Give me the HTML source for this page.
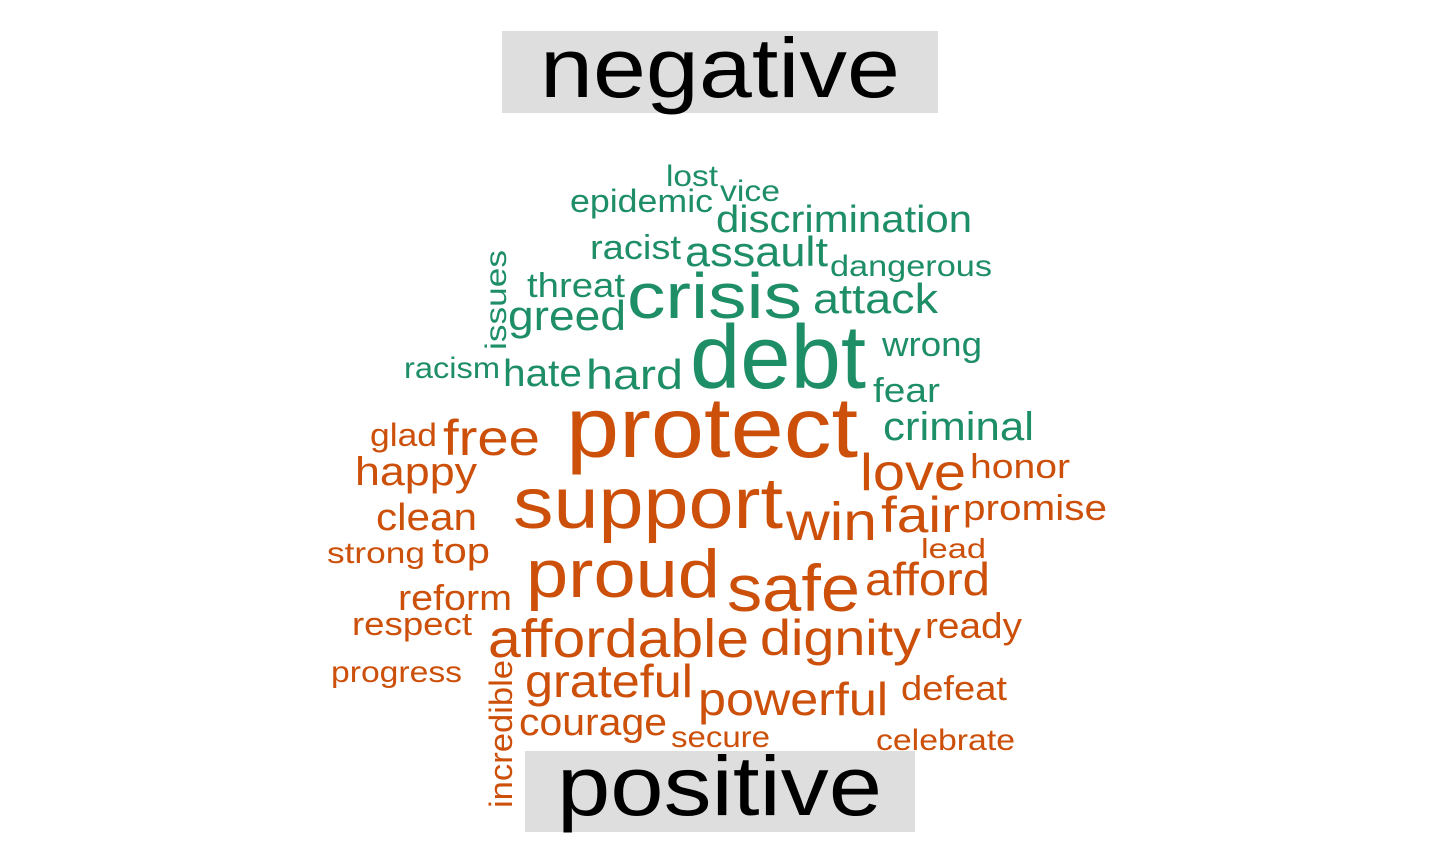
<!DOCTYPE html>
<html><head><meta charset="utf-8"><style>
html,body{margin:0;padding:0;background:#fff;width:1440px;height:864px;overflow:hidden}
svg text{font-family:"Liberation Sans",Arial,sans-serif}
</style></head><body>
<svg id="cloud" width="1440" height="864" viewBox="0 0 1440 864" xmlns="http://www.w3.org/2000/svg">
<rect x="502" y="31" width="436" height="82" fill="#dedede"/>
<text x="540" y="97" font-size="84" textLength="360" lengthAdjust="spacingAndGlyphs" fill="#000">negative</text>
<rect x="525" y="751" width="390" height="81" fill="#dedede"/>
<text x="557" y="815" font-size="84" textLength="325" lengthAdjust="spacingAndGlyphs" fill="#000">positive</text>
<g id="words"></g>
</svg>
<script>
const words = ["lost","vice","epidemic","discrimination","racist","assault","dangerous","threat","crisis","attack","issues","greed","debt","wrong","racism","hate","hard","fear","criminal",
"glad","free","protect","love","honor","happy","support","win","fair","promise","clean","strong","top","lead","proud","safe","afford","reform","respect","affordable","dignity","ready","progress","grateful","incredible","defeat","powerful","courage","secure","celebrate"];
const sentiment = ["n","n","n","n","n","n","n","n","n","n","n","n","n","n","n","n","n","n","n",
"p","p","p","p","p","p","p","p","p","p","p","p","p","p","p","p","p","p","p","p","p","p","p","p","p","p","p","p","p","p"];
const fontSizes = [30,30,32,38,34,42,30,34,64,42,30,42,90,34,30,38,42,34,40,
32,50,85,52,34,40,72,54,50,36,38,30,36,28,68,66,46,36,32,54,50,36,30,46,32,34,46,38,30,30];
// layout: [x, baseline y, width, rotated]
const layout = [[666,186,52,0],[720,201,60,0],[570,212,143,0],[716,232,256,0],[590,259,91,0],[685,266,143,0],[830,276,162,0],[527,297,98,0],[627,318,175,0],[813,313,125,0],[506,350,100,1],[508,330,118,0],[690,388,176,0],[882,356,100,0],[404,378,96,0],[503,386,79,0],[586,389,97,0],[873,402,67,0],[883,440,151,0],
[370,446,67,0],[443,455,97,0],[566,457,292,0],[860,490,106,0],[970,478,100,0],[355,485,122,0],[513,528,270,0],[786,540,91,0],[881,532,79,0],[963,520,144,0],[376,530,101,0],[327,563,98,0],[432,563,58,0],[921,558,65,0],[526,597,194,0],[727,611,133,0],[865,595,125,0],[398,610,114,0],[352,635,120,0],[488,657,261,0],[760,655,161,0],[925,638,97,0],[331,682,131,0],[525,697,168,0],[512,808,148,1],[901,700,106,0],[698,715,190,0],[519,735,148,0],[671,747,99,0],[876,750,139,0]];
const g = document.getElementById('words');
const NS = "http://www.w3.org/2000/svg";
words.forEach((w,i)=>{
  const t = document.createElementNS(NS,'text');
  
  
  const [x,y,wd,rot] = layout[i];
  if(rot){ t.setAttribute('transform',`translate(${x},${y}) rotate(-90)`); t.setAttribute('x',0); t.setAttribute('y',0); }
  else { t.setAttribute('x',x); t.setAttribute('y',y); }
  t.setAttribute('font-size',fontSizes[i]);
  t.setAttribute('textLength',wd);
  t.setAttribute('lengthAdjust','spacingAndGlyphs');
  t.setAttribute('fill', sentiment[i]==='n' ? '#1E8E66' : '#CC4F0A');
  t.textContent = w;
  g.appendChild(t);
});
</script>
</body></html>
